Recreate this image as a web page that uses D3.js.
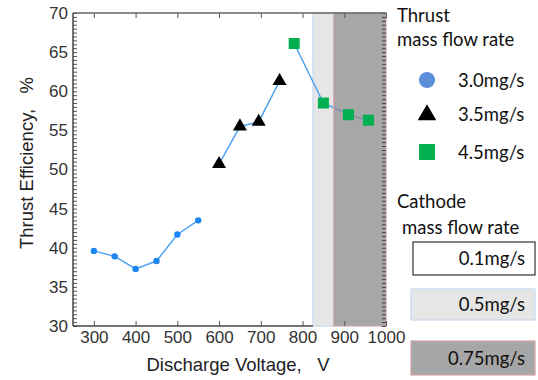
<!DOCTYPE html>
<html>
<head>
<meta charset="utf-8">
<script src="https://cdn.jsdelivr.net/npm/d3@7"></script>
<style>
  body { margin: 0; background: #fff; }
  svg { display: block; }
</style>
</head>
<body>
<svg id="chart"></svg>
<script>
// data
const volt30 = [300, 350, 400, 450, 500, 550];
const eff30 = [39.6, 38.9, 37.3, 38.3, 41.7, 43.5];
const volt35 = [600, 650, 695, 745];
const eff35 = [50.7, 55.5, 56.1, 61.3];
const volt45 = [780, 850, 910, 958];
const eff45 = [66.1, 58.5, 57.0, 56.3];

const thrustLabels = ["3.0mg/s", "3.5mg/s", "4.5mg/s"];
const cathodeLabels = ["0.1mg/s", "0.5mg/s", "0.75mg/s"];
const bandStart = [825, 875];
const bandEnd = [875, 1000];

const xTicks = [300, 400, 500, 600, 700, 800, 900, 1000];
const yTicks = [30, 35, 40, 45, 50, 55, 60, 65, 70];

const width = 538, height = 380;
const svg = d3.select("#chart").attr("width", width).attr("height", height);

const x = d3.scaleLinear().domain([250, 1000]).range([73, 386]);
const y = d3.scaleLinear().domain([30, 70]).range([326, 13]);

const tickFont = "Liberation Sans, Arial, sans-serif";
const legFont = "Lato, 'Open Sans', sans-serif";

// cathode bands (drawn under the line, dark one over with opacity)
const bandFill = ["#e6e6e6", "#a6a6a6"];
const bandStroke = ["#c6d8ee", "#d6a4a4"];

svg.append("rect")
    .attr("x", x(bandStart[0])).attr("y", y(70))
    .attr("width", x(bandEnd[0]) - x(bandStart[0]))
    .attr("height", y(30) - y(70))
    .attr("fill", bandFill[0])
    .attr("stroke", bandStroke[0]).attr("stroke-width", 1.2);

// line
const line = d3.line().x(d => x(d[0])).y(d => y(d[1]));
const series = [
    d3.zip(volt30, eff30),
    d3.zip(volt35, eff35),
    d3.zip(volt45, eff45)
];
series.forEach(s => {
    svg.append("path")
        .attr("d", line(s))
        .attr("fill", "none")
        .attr("stroke", "#4ea3f5")
        .attr("stroke-width", 1.5);
});

svg.append("rect")
    .attr("x", x(bandStart[1])).attr("y", y(70))
    .attr("width", x(bandEnd[1]) - x(bandStart[1]))
    .attr("height", y(30) - y(70))
    .attr("fill", "#8a8a8a").attr("fill-opacity", 0.75)
    .attr("stroke", bandStroke[1]).attr("stroke-width", 1.2);

// markers
svg.append("g").selectAll("circle")
    .data(series[0]).enter().append("circle")
    .attr("cx", d => x(d[0])).attr("cy", d => y(d[1]))
    .attr("r", 3.2).attr("fill", "#1c86f2");

const tri = d3.symbol().type(d3.symbolTriangle).size(85);
svg.append("g").selectAll("path")
    .data(series[1]).enter().append("path")
    .attr("d", tri)
    .attr("transform", d => `translate(${x(d[0])},${y(d[1])})`)
    .attr("fill", "#000");

svg.append("g").selectAll("rect")
    .data(series[2]).enter().append("rect")
    .attr("x", d => x(d[0]) - 5.5).attr("y", d => y(d[1]) - 5.5)
    .attr("width", 11).attr("height", 11)
    .attr("fill", "#00b050");

// axes
const axisColor = "#555";
const minorTicks = d3.range(30, 70.01, 0.5);

const leftAxis = svg.append("g").attr("transform", `translate(${x(250)},0)`)
    .call(d3.axisRight(y).tickValues(minorTicks).tickSize(4).tickFormat(""));
leftAxis.select(".domain").remove();
leftAxis.selectAll("line").attr("stroke", axisColor);

const leftLabels = svg.append("g").attr("transform", `translate(${x(250)},0)`)
    .call(d3.axisLeft(y).tickValues(yTicks).tickSize(0).tickPadding(5));
leftLabels.select(".domain").remove();
leftLabels.selectAll("text").attr("font-family", tickFont).attr("font-size", 17).attr("fill", "#333");

const rightAxis = svg.append("g").attr("transform", `translate(${x(1000)},0)`)
    .call(d3.axisLeft(y).tickValues(minorTicks).tickSize(4).tickFormat(""));
rightAxis.select(".domain").remove();
rightAxis.selectAll("line").attr("stroke", "#444");

const bottomAxis = svg.append("g").attr("transform", `translate(0,${y(30)})`)
    .call(d3.axisTop(x).tickValues(xTicks).tickSize(5).tickFormat(""));
bottomAxis.select(".domain").remove();
bottomAxis.selectAll("line").attr("stroke", axisColor);

const bottomLabels = svg.append("g").attr("transform", `translate(0,${y(30)})`)
    .call(d3.axisBottom(x).tickValues(xTicks).tickSize(0).tickPadding(5).tickFormat(d3.format("d")));
bottomLabels.select(".domain").remove();
bottomLabels.selectAll("text").attr("font-family", tickFont).attr("font-size", 17).attr("fill", "#333");

const topAxis = svg.append("g").attr("transform", `translate(0,${y(70)})`)
    .call(d3.axisBottom(x).tickValues(xTicks).tickSize(5).tickFormat(""));
topAxis.select(".domain").remove();
topAxis.selectAll("line").attr("stroke", axisColor);

// frame lines
svg.append("line").attr("x1", x(250)).attr("x2", x(1000))
    .attr("y1", y(70)).attr("y2", y(70)).attr("stroke", "#666").attr("stroke-width", 1.5);
svg.append("line").attr("x1", x(250)).attr("x2", x(bandStart[0]))
    .attr("y1", y(30)).attr("y2", y(30)).attr("stroke", "#444").attr("stroke-width", 1.5);
svg.append("line").attr("x1", x(250)).attr("x2", x(250))
    .attr("y1", y(70)).attr("y2", y(30)).attr("stroke", "#444").attr("stroke-width", 1.5);

// axis titles
svg.append("text")
    .attr("transform", "translate(33,163) rotate(-90)")
    .attr("text-anchor", "middle")
    .attr("font-family", tickFont).attr("font-size", 18.5).attr("fill", "#222")
    .attr("xml:space", "preserve")
    .text("Thrust Efficiency,   %");

svg.append("text")
    .attr("x", 238).attr("y", 371)
    .attr("text-anchor", "middle")
    .attr("font-family", tickFont).attr("font-size", 18.5).attr("fill", "#222")
    .attr("xml:space", "preserve")
    .text("Discharge Voltage,   V");

// legend: thrust mass flow rate
const leg = svg.append("g").attr("font-family", legFont).attr("fill", "#111");
leg.append("text").attr("x", 397).attr("y", 22).attr("font-size", 18.5).text("Thrust");
leg.append("text").attr("x", 397).attr("y", 46).attr("font-size", 18.5).text("mass flow rate");

const legY = [80, 114, 152];
leg.append("circle").attr("cx", 427).attr("cy", legY[0]).attr("r", 8).attr("fill", "#5b8fd9");
leg.append("path").attr("d", d3.symbol().type(d3.symbolTriangle).size(150))
    .attr("transform", `translate(427,${legY[1] + 1})`).attr("fill", "#000");
leg.append("rect").attr("x", 419).attr("y", legY[2] - 8).attr("width", 16).attr("height", 16)
    .attr("fill", "#00b050");
thrustLabels.forEach((t, i) => {
    leg.append("text").attr("x", 458).attr("y", legY[i] + 6.5).attr("font-size", 18.5).text(t);
});

// legend: cathode mass flow rate
leg.append("text").attr("x", 397).attr("y", 208).attr("font-size", 18.5).text("Cathode");
leg.append("text").attr("x", 402).attr("y", 234).attr("font-size", 18.5).text("mass flow rate");

const boxX = [413, 411, 411];
const boxY = [242, 289, 341];
const boxH = [33, 31, 34];
const boxFill = ["#ffffff", "#e6e6e6", "#a6a6a6"];
const boxStroke = ["#333333", "#c6d8ee", "#d6a4a4"];
cathodeLabels.forEach((t, i) => {
    leg.append("rect")
        .attr("x", boxX[i]).attr("y", boxY[i])
        .attr("width", 535 - boxX[i]).attr("height", boxH[i])
        .attr("fill", boxFill[i]).attr("stroke", boxStroke[i]).attr("stroke-width", 1.2);
    leg.append("text")
        .attr("x", 525).attr("y", boxY[i] + boxH[i] / 2 + 6.5)
        .attr("text-anchor", "end").attr("font-size", 18.5).text(t);
});
</script>
</body>
</html>
